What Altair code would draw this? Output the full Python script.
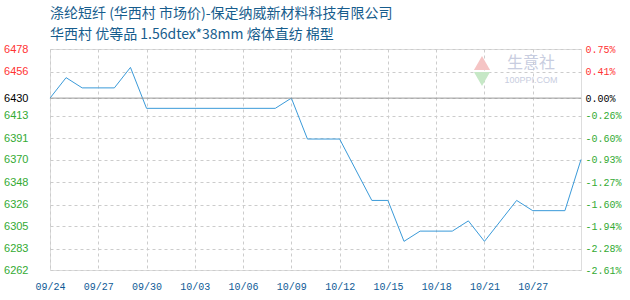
import altair as alt
import pandas as pd

# ---- data ----
dates = ["09/24", "09/25", "09/26", "09/27", "09/28", "09/29", "09/30", "10/08",
         "10/09", "10/10", "10/12", "10/14", "10/15", "10/16", "10/17", "10/19",
         "10/20", "10/21", "10/23", "10/24", "10/26", "10/27"]
prices = [6430, 6450, 6440, 6440, 6440, 6460, 6420, 6420,
          6430, 6390, 6390, 6330, 6330, 6290, 6300, 6300,
          6310, 6290, 6330, 6320, 6320, 6370]

x_tick_days = [0, 3, 6, 9, 12, 15, 18, 21, 24, 27, 30]
x_tick_labels = ["09/24", "09/27", "09/30", "10/03", "10/06", "10/09",
                 "10/12", "10/15", "10/18", "10/21", "10/27"]

y_ticks = [6478, 6456, 6430, 6413, 6391, 6370, 6348, 6326, 6305, 6283, 6262]
pct_labels = ["0.75%", "0.41%", "0.00%", "-0.26%", "-0.60%", "-0.93%",
              "-1.27%", "-1.60%", "-1.94%", "-2.28%", "-2.61%"]
base_price = 6430
y_domain = [6262, 6478]

title_line1 = "涤纶短纤 (华西村 市场价)-保定纳威新材料科技有限公司"
title_line2 = "华西村 优等品 1.56dtex*38mm 熔体直纺 棉型"

# ---- build table ----
start = pd.Timestamp("2024-09-24")
day_index = [(pd.Timestamp("2024-" + d.replace("/", "-")) - start).days for d in dates]
df = pd.DataFrame({"day": day_index, "date": dates, "price": prices})
base_df = pd.DataFrame({"base": [base_price]})
deco_df = pd.DataFrame({"k": [0]})

RED = "#ff3333"
GREEN = "#33aa33"
label_color = {
    "condition": [
        {"test": f"datum.value > {base_price}", "value": RED},
        {"test": f"datum.value < {base_price}", "value": GREEN},
    ],
    "value": "#000000",
}

yscale = alt.Scale(domain=y_domain, nice=False, zero=False)
xscale = alt.Scale(domain=[0, 33], nice=False, zero=False)

x_label_expr = "[" + ",".join(f"'{s}'" for s in x_tick_labels) + "][round(datum.value/3)]"
tick_list = "[" + ",".join(str(v) for v in y_ticks) + "]"
pct_expr = "[" + ",".join(f"'{s}'" for s in pct_labels) + "][indexof(" + tick_list + ", datum.value)]"

line = alt.Chart(df).mark_line(color="#3a9ad9", strokeWidth=1).encode(
    x=alt.X("day:Q", scale=xscale,
            axis=alt.Axis(values=x_tick_days, labelExpr=x_label_expr, title=None,
                          grid=True, gridDash=[3, 3], gridColor="#cccccc",
                          ticks=False, domain=False, labelFont="Liberation Mono",
                          labelFontSize=10, labelColor="#0e5a96", labelPadding=11,
                          labelFlush=False)),
    y=alt.Y("price:Q", scale=yscale,
            axis=alt.Axis(values=y_ticks, format="d", title=None, grid=True,
                          gridDash=[3, 3], gridColor="#cccccc", ticks=False,
                          domain=False, labelFont="Liberation Sans", labelFontSize=11,
                          labelPadding=22, labelColor=label_color, orient="left")),
)

base = alt.Chart(base_df).mark_rule(color="#999999", strokeWidth=1).encode(
    y=alt.Y("base:Q", scale=yscale,
            axis=alt.Axis(values=y_ticks, labelExpr=pct_expr, title=None, grid=False,
                          ticks=False, domain=False, labelFont="Liberation Mono",
                          labelFontSize=10, labelPadding=4, labelColor=label_color,
                          orient="right")),
)

tri_up = alt.Chart(deco_df).mark_point(shape="triangle-up", filled=True, color="#f5c4c4",
                                       size=260, opacity=1).encode(
    x=alt.value(432), y=alt.value(14))
tri_dn = alt.Chart(deco_df).mark_point(shape="triangle-down", filled=True, color="#c6e8c6",
                                       size=260, opacity=1).encode(
    x=alt.value(432), y=alt.value(30))
wm1 = alt.Chart(deco_df).mark_text(text="生意社", font="Noto Sans CJK SC", fontSize=16,
                                   color="#c8cde0", align="center", baseline="middle").encode(
    x=alt.value(481), y=alt.value(14))
wm2 = alt.Chart(deco_df).mark_text(text="100PPI.COM", font="Liberation Sans", fontSize=9,
                                   color="#c8cde0", align="center", baseline="middle").encode(
    x=alt.value(481), y=alt.value(31))

chart = alt.layer(tri_up, tri_dn, wm1, wm2, line, base).resolve_axis(
    y="independent"
).properties(
    width=531,
    height=221,
    padding={"left": 50, "top": 49, "right": 49, "bottom": 30},
    autosize=alt.AutoSizeParams(type="none"),
    title=alt.TitleParams(text=title_line1, subtitle=title_line2, anchor="start",
                          frame="group", font="Noto Sans CJK SC", fontSize=14,
                          fontWeight="normal", color="#175d8d",
                          subtitleFont="Noto Sans CJK SC", subtitleFontSize=14,
                          subtitleColor="#175d8d", subtitlePadding=7, offset=1),
).configure_view(stroke="#999999", strokeWidth=1.5).configure(background="white")

chart.save("out.html", embed_options={"renderer": "svg", "actions": False})
